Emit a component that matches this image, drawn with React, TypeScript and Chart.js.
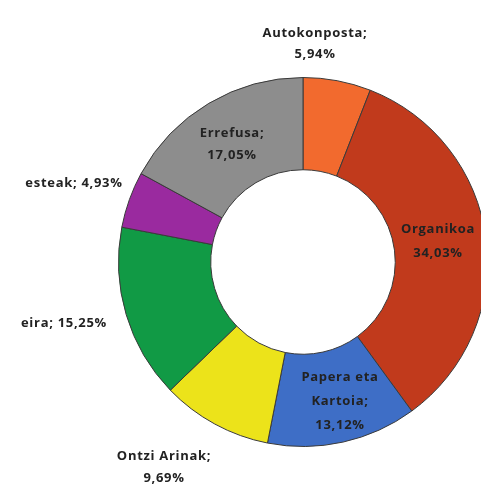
import React, { useEffect, useRef } from "react";
import { Chart, registerables } from "chart.js";

Chart.register(...registerables);

const categories = ["Autokonposta", "Organikoa", "Papera eta Kartoia", "Ontzi Arinak", "Beira", "Besteak", "Errefusa"];
const values = [5.94, 34.03, 13.12, 9.69, 15.25, 4.93, 17.05];
const colors = ["#F26A2E", "#C13A1C", "#3E6EC6", "#ECE31A", "#119A45", "#9A2A9F", "#8D8D8D"];
const labelLines = [
  ["Autokonposta;", "5,94%"],
  ["Organikoa", "34,03%"],
  ["Papera eta", "Kartoia;", "13,12%"],
  ["Ontzi Arinak;", "9,69%"],
  ["eira; 15,25%"],
  ["esteak; 4,93%"],
  ["Errefusa;", "17,05%"],
];
const labelPos = [
  [315, 33, 21],
  [438, 229, 24],
  [340, 377, 24],
  [164, 456, 22],
  [64, 323, 0],
  [74, 183, 0],
  [232, 133, 22],
];

const labelPlugin = {
  id: "sliceLabels",
  afterDraw(chart: any) {
    const ctx = chart.ctx;
    ctx.save();
    ctx.font = "bold 13px 'Open Sans', 'Liberation Sans', sans-serif";
    try { (ctx as any).letterSpacing = "0.7px"; } catch (e) {}
    ctx.fillStyle = "#222";
    ctx.textAlign = "center";
    ctx.textBaseline = "middle";
    labelLines.forEach((lines, i) => {
      const [x, y, lh] = labelPos[i];
      lines.forEach((t, j) => ctx.fillText(t, x, y + j * lh));
    });
    ctx.restore();
  },
};

export default function App() {
  const ref = useRef<HTMLCanvasElement>(null);
  useEffect(() => {
    if (!ref.current) return;
    const chart = new Chart(ref.current, {
      type: "doughnut",
      data: {
        labels: categories,
        datasets: [
          {
            data: values,
            backgroundColor: colors,
            borderColor: "#3a3a3a",
            borderWidth: 1,
          },
        ],
      },
      options: {
        responsive: false,
        animation: false,
        cutout: "50%",
        layout: { padding: { left: 118, right: 12, top: 77, bottom: 39 } },
        plugins: { legend: { display: false }, tooltip: { enabled: false } },
      },
      plugins: [labelPlugin],
    });
    return () => chart.destroy();
  }, []);
  return (
    <div style={{ position: "fixed", left: 0, top: 0, width: 481, height: 486, overflow: "hidden", background: "#fff" }}>
      <canvas ref={ref} width={500} height={486} style={{ display: "block" }} />
    </div>
  );
}
